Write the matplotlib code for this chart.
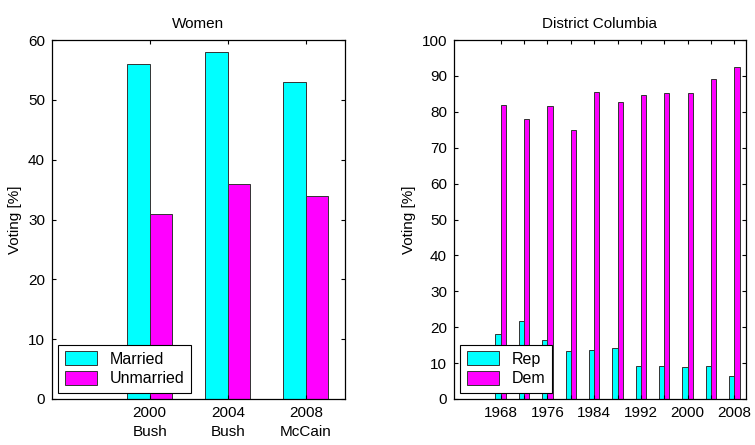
import numpy as np
import matplotlib
matplotlib.use("Agg")
import matplotlib.pyplot as plt

plt.rcParams["font.family"] = ["Liberation Sans", "DejaVu Sans"]
plt.rcParams["font.size"] = 11

# Women panel
women_years = [2000, 2004, 2008]
women_labels = ["2000\nBush", "2004\nBush", "2008\nMcCain"]
married = [56, 58, 53]
unmarried = [31, 36, 34]

# District Columbia panel
dc_years = [1968, 1972, 1976, 1980, 1984, 1988, 1992, 1996, 2000, 2004, 2008]
dc_rep = [18.2, 21.6, 16.4, 13.4, 13.7, 14.3, 9.1, 9.3, 9.0, 9.3, 6.5]
dc_dem = [81.8, 78.1, 81.6, 74.9, 85.4, 82.7, 84.6, 85.2, 85.2, 89.2, 92.5]

CYAN = "#00ffff"
MAGENTA = "#ff00ff"
EDGE = "#333333"


def style_axes(ax):
    ax.tick_params(direction="in", top=True, right=True, length=3, width=0.8,
                   labelsize=11, pad=5)
    for s in ax.spines.values():
        s.set_linewidth(0.9)


def add_legend(ax):
    leg = ax.legend(loc="lower left", fancybox=False, edgecolor="black",
                    framealpha=1, borderaxespad=0.4, handlelength=2.0,
                    handleheight=1.0, borderpad=0.4, labelspacing=0.25,
                    handletextpad=0.8, fontsize=11.5)
    leg.get_frame().set_linewidth(0.8)
    return leg


fig = plt.figure(figsize=(7.55, 4.45), dpi=100)
ax1 = fig.add_axes([52 / 755, 1 - 399 / 445, 293 / 755, 359 / 445])
ax2 = fig.add_axes([454 / 755, 1 - 399 / 445, 292 / 755, 359 / 445])

# left chart
w = 1.15
ax1.bar(women_years, married, width=-w, align="edge", color=CYAN,
        edgecolor=EDGE, linewidth=0.7, label="Married")
ax1.bar(women_years, unmarried, width=w, align="edge", color=MAGENTA,
        edgecolor=EDGE, linewidth=0.7, label="Unmarried")
ax1.set_xlim(1995, 2010)
ax1.set_ylim(0, 60)
ax1.set_xticks(women_years)
ax1.set_xticklabels(women_labels, linespacing=1.5)
ax1.set_yticks(np.arange(0, 61, 10))
ax1.set_ylabel("Voting [%]", labelpad=4)
ax1.set_title("Women", fontsize=11, pad=9)
style_axes(ax1)
add_legend(ax1)

# right chart
w2 = 0.9
ax2.bar(dc_years, dc_rep, width=-w2, align="edge", color=CYAN,
        edgecolor=EDGE, linewidth=0.7, label="Rep")
ax2.bar(dc_years, dc_dem, width=w2, align="edge", color=MAGENTA,
        edgecolor=EDGE, linewidth=0.7, label="Dem")
ax2.set_xlim(1960, 2010)
ax2.set_ylim(0, 100)
ax2.set_xticks(dc_years)
ax2.set_xticklabels([str(y) if i % 2 == 0 else "" for i, y in enumerate(dc_years)])
ax2.set_yticks(np.arange(0, 101, 10))
ax2.set_ylabel("Voting [%]", labelpad=4)
ax2.set_title("District Columbia", fontsize=11, pad=9)
style_axes(ax2)
add_legend(ax2)

fig.savefig("out.png", dpi=100)
